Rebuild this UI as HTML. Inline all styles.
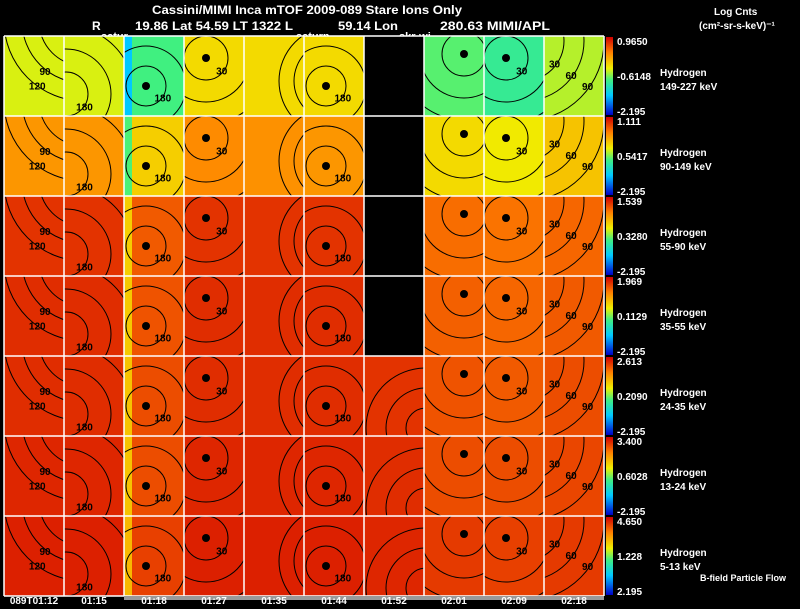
<!DOCTYPE html>
<html><head><meta charset="utf-8"><style>
html,body{margin:0;padding:0;background:#000;width:800px;height:609px;overflow:hidden}
svg{display:block}
text{font-family:"Liberation Sans",sans-serif;font-weight:bold}
</style></head><body>
<svg id="chart" width="800" height="609" viewBox="0 0 800 609" xmlns="http://www.w3.org/2000/svg">
<defs>
<linearGradient id="cbar" x1="0" y1="1" x2="0" y2="0">
<stop offset="0" stop-color="#0000c8"/><stop offset="0.25" stop-color="#00c8ff"/><stop offset="0.45" stop-color="#40f080"/><stop offset="0.6" stop-color="#f0f000"/><stop offset="0.8" stop-color="#ff8000"/><stop offset="1" stop-color="#d00000"/>
</linearGradient>
</defs>
<g fill="#fff" font-size="12">
<text x="152" y="14" textLength="310" lengthAdjust="spacingAndGlyphs">Cassini/MIMI Inca mTOF  2009-089   Stare   Ions Only</text>
<text x="92" y="30">R</text>
<text x="135" y="30" textLength="158" lengthAdjust="spacingAndGlyphs">19.86 Lat 54.59 LT 1322 L</text>
<text x="338" y="30" textLength="60" lengthAdjust="spacingAndGlyphs">59.14 Lon</text>
<text x="440" y="30" textLength="110" lengthAdjust="spacingAndGlyphs">280.63  MIMI/APL</text>
<text x="101" y="40" font-size="11">satur</text>
<text x="296" y="40" font-size="11">saturn</text>
<text x="399" y="40" font-size="11">skr-wi</text>
<text x="714" y="15" font-size="10">Log Cnts</text>
<text x="699" y="29" font-size="10">(cm²-sr-s-keV)⁻¹</text>
</g>
<g id="panels"></g>
<g id="right"></g>
<rect x="124" y="596" width="480" height="4" fill="#999"/>
<g id="times" fill="#fff" font-size="10"></g>
<text x="700" y="581" fill="#fff" font-size="9">B-field Particle Flow</text>
</svg>
<script>
const rowNames = ["149-227 keV","90-149 keV","55-90 keV","35-55 keV","24-35 keV","13-24 keV","5-13 keV"];
const topVals = ["0.9650","1.111","1.539","1.969","2.613","3.400","4.650"];
const midVals = ["-0.6148","0.5417","0.3280","0.1129","0.2090","0.6028","1.228"];
const botVals = ["-2.195","-2.195","-2.195","-2.195","-2.195","-2.195","2.195"];
const timeLabels = ["089T01:12","01:15","01:18","01:27","01:35","01:44","01:52","02:01","02:09","02:18"];
const panelVals = [
 [0.58,0.58,0.45,0.64,0.64,0.64,null,0.47,0.42,0.55],
 [0.76,0.76,0.66,0.78,0.77,0.76,null,0.64,0.61,0.68],
 [0.92,0.92,0.86,0.92,0.92,0.92,null,0.83,0.82,0.84],
 [0.93,0.93,0.87,0.93,0.93,0.93,null,0.85,0.84,0.86],
 [0.93,0.93,0.88,0.93,0.93,0.93,0.92,0.87,0.86,0.88],
 [0.94,0.94,0.88,0.94,0.94,0.94,0.93,0.88,0.88,0.89],
 [0.95,0.95,0.90,0.95,0.95,0.95,0.94,0.91,0.90,0.91]
];
const stops=[[0,[0,0,200]],[0.25,[0,200,255]],[0.45,[64,240,128]],[0.6,[240,240,0]],[0.8,[255,128,0]],[1,[208,0,0]]];
function cmap(v){for(let i=1;i<stops.length;i++){if(v<=stops[i][0]){const a=stops[i-1],b=stops[i];const t=(v-a[0])/(b[0]-a[0]);const c=a[1].map((x,k)=>Math.round(x+(b[1][k]-x)*t));return `rgb(${c})`;}}return 'rgb(208,0,0)';}
const NS="http://www.w3.org/2000/svg";
function mk(tag,attrs,parent){const e=document.createElementNS(NS,tag);for(const k in attrs)e.setAttribute(k,attrs[k]);parent.appendChild(e);return e;}
const x0=4,pw=60,y0=36,ph=80;
const xScale=c=>x0+c*pw, yScale=r=>y0+r*ph;
const tmpl={
 A:{cx:80,cy:-15,rs:[45,62,80],labels:["60","90","120"]},
 B:{cx:2,cy:58,rs:[22,45,68],labels:["180","150","120"]},
 C:{cx:22,cy:50,rs:[20,40],labels:["180","150"]},
 D:{cx:22,cy:22,rs:[22,44,66],labels:["30","60","90"]},
 E:{cx:90,cy:45,rs:[40,55],labels:["120","90"]},
 F:{cx:62,cy:72,rs:[20,40,60],labels:["150","120","90"]},
 G:{cx:40,cy:18,rs:[22,44,66],labels:["30","60","90"]},
 H:{cx:-20,cy:5,rs:[40,60,80],labels:["30","60","90"]}
};
const colT=["A","B","C","D","E","C","F","G","D","H"];
const panels=document.getElementById('panels');
panelVals.forEach((row,r)=>{
 row.forEach((v,c)=>{
  const g=mk('g',{},panels);
  
  
  const x=xScale(c),y=yScale(r);
  if(v===null){mk('rect',{x:x,y:y,width:pw,height:ph,fill:'#000'},g);return;}
  mk('rect',{x:x,y:y,width:pw,height:ph,fill:cmap(v)},g);
  if(c===2){mk('rect',{x:x,y:y,width:8,height:ph,fill:cmap(Math.max(v-0.2,0.2))},g);}
  const id=`cl${r}_${c}`;
  const cp=mk('clipPath',{id:id},g);mk('rect',{x:x,y:y,width:pw,height:ph},cp);
  const cg=mk('g',{'clip-path':`url(#${id})`},g);
  const t=tmpl[colT[c]];
  t.rs.forEach((rad,i)=>{
   mk('circle',{cx:x+t.cx,cy:y+t.cy,r:rad,fill:'none',stroke:'#000','stroke-width':1},cg);
   const ang=(colT[c]==='A'||colT[c]==='E')?2.2:0.6;
   let lx=x+t.cx+rad*Math.cos(ang), ly=y+t.cy+rad*Math.sin(ang);
   if(lx>x+4&&lx<x+pw-8&&ly>y+8&&ly<y+ph-2){const tx=mk('text',{x:lx-8,y:ly+4,'font-size':10,'font-weight':'normal',fill:'#000'},cg);tx.textContent=t.labels[i];}
  });
  if(colT[c]==='D'||colT[c]==='G'||colT[c]==='C'){mk('circle',{cx:x+t.cx,cy:y+t.cy,r:4,fill:'#000'},cg);}
 });
});
for(let c=0;c<=10;c++){const l=mk('line',{x1:xScale(c),y1:y0,x2:xScale(c),y2:y0+7*ph,stroke:'#fff','stroke-width':1.5},panels);}
for(let r=0;r<=7;r++){const l=mk('line',{x1:x0,y1:yScale(r),x2:x0+10*pw,y2:yScale(r),stroke:'#fff','stroke-width':1.5},panels);}
const right=document.getElementById('right');
rowNames.forEach((n,r)=>{
 const y=yScale(r);
 const cb=mk('rect',{x:606,y:y+1,width:7,height:ph-2,fill:'url(#cbar)'},right);
 
 
 const mkT=(tx,yy,s,size)=>{const e=mk('text',{x:tx,y:yy,fill:'#fff','font-size':size},right);e.textContent=s;};
 mkT(617,y+9,topVals[r],10);
 mkT(617,y+44,midVals[r],10);
 mkT(617,y+79,botVals[r],10);
 mkT(660,y+40,"Hydrogen",10);
 mkT(660,y+54,n,10);
});
const times=document.getElementById('times');
timeLabels.forEach((s,c)=>{const e=mk('text',{x:xScale(c)+30,y:604,'text-anchor':'middle'},times);e.textContent=s;});
</script>
</body></html>
